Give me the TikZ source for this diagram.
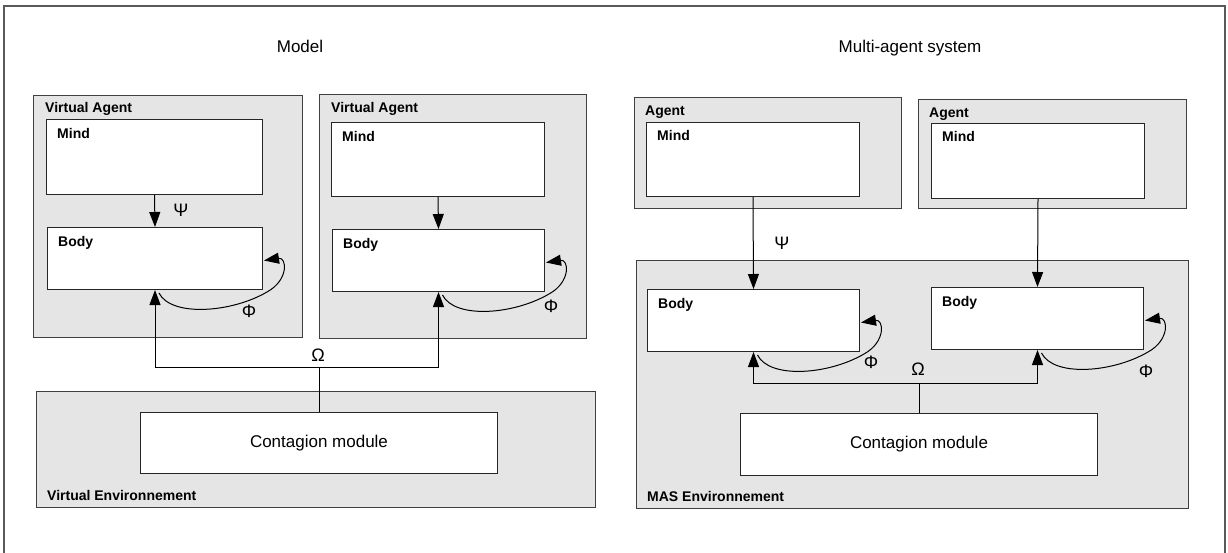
\documentclass[tikz,border=0pt]{standalone}
\usepackage{fontspec}
\setmainfont{Liberation Sans}
\usetikzlibrary{arrows.meta,calc}

% self-influence loop on a body box: leaves the bottom, returns on the right side
\newcommand{\philoop}[1]{%
  \draw[arr] ($(#1.south)+(4,3)$)
    .. controls ($(#1.south)+(16,27)$) and ($(#1.south east)+(-32,23)$) .. ($(#1.south east)+(4,2)$)
    .. controls ($(#1.south east)+(26,-10)$) and ($(#1.south east)+(24,-33)$) .. ($(#1.east)+(1,2)$);}

\begin{document}
\begin{tikzpicture}[x=1pt,y=-1pt,
  group/.style={rectangle,draw=black!75,line width=1.2pt,fill=black!10,inner sep=0,anchor=north west},
  part/.style={rectangle,draw=black!85,line width=1pt,fill=white,inner sep=0,anchor=north west},
  tag/.style={inner sep=0,anchor=north west,font=\fontsize{14}{16}\selectfont\bfseries},
  envtag/.style={inner sep=0,anchor=base west,font=\fontsize{14}{16}\selectfont\bfseries},
  title/.style={inner sep=0,font=\fontsize{17}{20}\selectfont},
  sym/.style={inner sep=0,font=\fontsize{18}{20}\selectfont},
  link/.style={draw=black,line width=1pt},
  arr/.style={link,-{Triangle[length=15pt,width=11pt]}}
]
\useasboundingbox (0,0) rectangle (1228,553);
\fill[white] (0,0) rectangle (1228,553);

% outer frame, open at the bottom
\draw[black!65,line width=2pt] (4,553) -- (4,6) -- (1225,6) -- (1225,553);

% titles
\node[title] (tmodel) at (300,46) {Model};
\node[title] (tmas) at (910,48) {Multi-agent system};

% ---------------- Model side ----------------
\node[group,minimum width=269,minimum height=242] (va1) at (33,95) {};
\node[tag] (va1t) at ([shift={(12,7)}]va1.north west) {Virtual Agent};
\node[part,minimum width=216,minimum height=75] (m1) at (46,119) {};
\node[tag] (m1t) at ([shift={(11,9)}]m1.north west) {Mind};
\node[part,minimum width=215,minimum height=62] (b1) at (47,227) {};
\node[tag] (b1t) at ([shift={(11,9)}]b1.north west) {Body};

\node[group,minimum width=267,minimum height=244] (va2) at (319,94) {};
\node[tag] (va2t) at ([shift={(12,8)}]va2.north west) {Virtual Agent};
\node[part,minimum width=213,minimum height=74] (m2) at (331,122) {};
\node[tag] (m2t) at ([shift={(11,9)}]m2.north west) {Mind};
\node[part,minimum width=212,minimum height=62] (b2) at (332,229) {};
\node[tag] (b2t) at ([shift={(11,9)}]b2.north west) {Body};

\node[group,minimum width=559,minimum height=116] (venv) at (36,391) {};
\node[envtag] (venvt) at ([shift={(11,-8)}]venv.south west) {Virtual Environnement};
\node[part,minimum width=357,minimum height=61] (c1) at (140,412) {};
\node[title] (c1t) at (c1.center) {Contagion module};

\draw[arr] (m1.south) -- (b1.north);
\draw[arr] (m2.south) -- (b2.north);
\node[sym] (psi1) at (181,210) {Ψ};

\coordinate (omL) at (c1.north |- 0,367);
\draw[link] (c1.north) -- (omL);
\draw[arr] (omL) -| (b1.south);
\draw[arr] (omL) -| (b2.south);
\node[sym] (om1) at (318,355) {Ω};

\philoop{b1}
\philoop{b2}
\node[sym] (phi1) at (249,311) {Φ};
\node[sym] (phi2) at (551,306) {Φ};

% ---------------- Multi-agent system side ----------------
\node[group,minimum width=267,minimum height=111] (ag1) at (634,97) {};
\node[tag] (ag1t) at ([shift={(11,9)}]ag1.north west) {Agent};
\node[part,minimum width=213,minimum height=74] (m3) at (646,122) {};
\node[tag] (m3t) at ([shift={(11,8)}]m3.north west) {Mind};

\node[group,minimum width=268,minimum height=109] (ag2) at (918,99) {};
\node[tag] (ag2t) at ([shift={(11,9)}]ag2.north west) {Agent};
\node[part,minimum width=213,minimum height=75] (m4) at (931,123) {};
\node[tag] (m4t) at ([shift={(11,8)}]m4.north west) {Mind};

\node[group,minimum width=552,minimum height=248] (menv) at (636,260) {};
\node[envtag] (menvt) at ([shift={(11,-8)}]menv.south west) {MAS Environnement};
\node[part,minimum width=212,minimum height=62] (b3) at (647,289) {};
\node[tag] (b3t) at ([shift={(11,9)}]b3.north west) {Body};
\node[part,minimum width=212,minimum height=62] (b4) at (931,287) {};
\node[tag] (b4t) at ([shift={(11,9)}]b4.north west) {Body};
\node[part,minimum width=357,minimum height=62] (c2) at (740,413) {};
\node[title] (c2t) at (c2.center) {Contagion module};

\draw[arr] (m3.south) -- (b3.north);
\draw[arr] (m4.south) -- (b4.north);
\node[sym] (psi2) at (782,243) {Ψ};

\coordinate (omR) at (c2.north |- 0,383);
\draw[link] (c2.north) -- (omR);
\draw[arr] (omR) -| (b3.south);
\draw[arr] (omR) -| (b4.south);
\node[sym] (om2) at (918,369) {Ω};

\philoop{b3}
\philoop{b4}
\node[sym] (phi3) at (871,362) {Φ};
\node[sym] (phi4) at (1146,371) {Φ};
\end{tikzpicture}
\end{document}
